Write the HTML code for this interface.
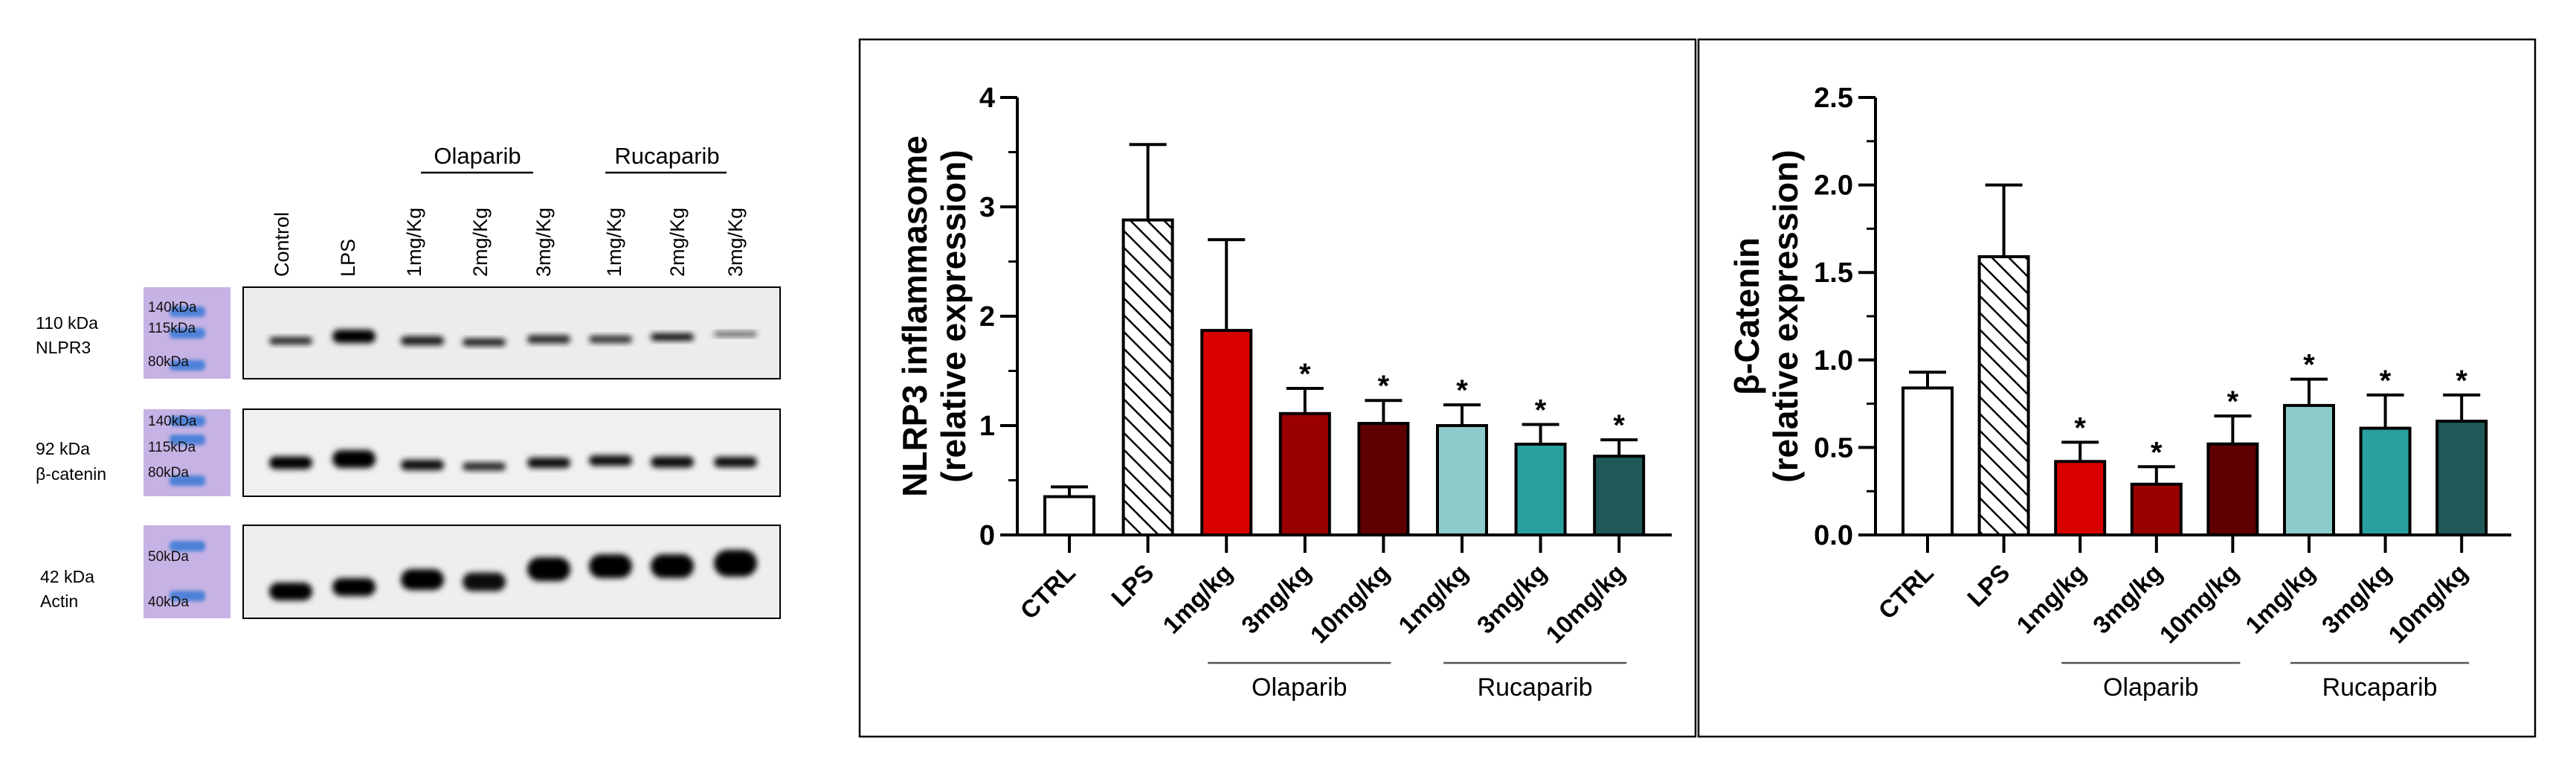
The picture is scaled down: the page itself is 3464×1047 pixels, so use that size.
<!DOCTYPE html>
<html><head><meta charset="utf-8"><style>
html,body{margin:0;padding:0;background:#fff;}
svg text{font-family:"Liberation Sans",Arial,sans-serif;}
</style></head><body>
<svg id="fig" xmlns="http://www.w3.org/2000/svg" width="3464" height="1042" viewBox="0 0 3464 1042">
<defs>
<pattern id="hatch" patternUnits="userSpaceOnUse" width="16" height="16" patternTransform="rotate(-45)">
<rect width="16" height="16" fill="#fff"/><line x1="0" y1="0" x2="0" y2="16" stroke="#000" stroke-width="5"/>
</pattern>
<filter id="blur" x="-20%" y="-50%" width="140%" height="200%"><feGaussianBlur stdDeviation="4"/></filter>
<filter id="blur2" x="-20%" y="-50%" width="140%" height="200%"><feGaussianBlur stdDeviation="2.5"/></filter>
</defs>
<g id="blot"></g>
<rect x="1156" y="53" width="1124" height="937" fill="none" stroke="#000" stroke-width="2.5"/>
<rect x="2284" y="53" width="1125" height="937" fill="none" stroke="#000" stroke-width="2.5"/>
<g id="chart1"></g>
<g id="chart2"></g>
</svg>
<script>
const NS="http://www.w3.org/2000/svg";
const categories=["CTRL","LPS","1mg/kg","3mg/kg","10mg/kg","1mg/kg","3mg/kg","10mg/kg"];
const barColors=["#ffffff","url(#hatch)","#d90000","#9b0000","#5e0000","#8ecccb","#28a09e","#205a58"];
const nlrp3Values=[0.35,2.88,1.87,1.11,1.02,1.00,0.83,0.72];
const nlrp3Errors=[0.44,3.57,2.70,1.34,1.23,1.19,1.01,0.87];
const nlrp3Stars=[false,false,false,true,true,true,true,true];
const nlrp3Ticks=["0","1","2","3","4"];
const nlrp3TickValues=[0,1,2,3,4];
const bcatValues=[0.84,1.59,0.42,0.29,0.52,0.74,0.61,0.65];
const bcatErrors=[0.93,2.00,0.53,0.39,0.68,0.89,0.80,0.80];
const bcatStars=[false,false,true,true,true,true,true,true];
const bcatTicks=["0.0","0.5","1.0","1.5","2.0","2.5"];
const bcatTickValues=[0,0.5,1.0,1.5,2.0,2.5];
const groupNames=["Olaparib","Rucaparib"];
const groupRanges=[[2,4],[5,7]];

function mk(parent,tag,attrs,text){const e=document.createElementNS(NS,tag);for(const k in attrs)e.setAttribute(k,attrs[k]);if(text!==undefined)e.textContent=text;parent.appendChild(e);return e;}

function drawChart(g,cfg){
  const y0=719,yTop=131;
  const ys=v=>y0-(v/cfg.max)*(y0-yTop);
  const xs=i=>cfg.axisX+70+i*cfg.spacing;
  let e=mk(g,"line",{x1:cfg.axisX,y1:yTop,x2:cfg.axisX,y2:y0,stroke:"#000","stroke-width":4});
  
  
  e=mk(g,"line",{x1:cfg.axisX-23,y1:y0,x2:cfg.axisEnd,y2:y0,stroke:"#000","stroke-width":4});
  
  
  cfg.tickValues.forEach((v,i)=>{
    const t=mk(g,"line",{x1:cfg.axisX-23,y1:ys(v),x2:cfg.axisX,y2:ys(v),stroke:"#000","stroke-width":4});
    
    
    const l=mk(g,"text",{x:cfg.axisX-30,y:ys(v)+13,"text-anchor":"end","font-size":38,"font-weight":"bold"},cfg.ticks[i]);
    
    
    if(i<cfg.tickValues.length-1){
      const mv=(v+cfg.tickValues[i+1])/2;
      const m=mk(g,"line",{x1:cfg.axisX-12,y1:ys(mv),x2:cfg.axisX,y2:ys(mv),stroke:"#000","stroke-width":3});
      
      
    }
  });
  cfg.values.forEach((v,i)=>{
    const c=xs(i);
    const eb=mk(g,"path",{d:`M${c},${ys(v)}V${ys(cfg.errors[i])}M${c-25},${ys(cfg.errors[i])}H${c+25}`,stroke:"#000","stroke-width":4,fill:"none"});
    
    
    const b=mk(g,"rect",{x:c-33,y:ys(v),width:66,height:y0-ys(v),fill:barColors[i],stroke:"#000","stroke-width":4});
    
    
    if(cfg.stars[i]){
      const s=mk(g,"text",{x:c,y:ys(cfg.errors[i])-6,"text-anchor":"middle","font-size":40,"font-weight":"bold"},"*");
      
      
    }
    const tk=mk(g,"line",{x1:c,y1:y0,x2:c,y2:743,stroke:"#000","stroke-width":4});
    
    
    const lb=mk(g,"text",{x:c+10,y:772,"text-anchor":"end","font-size":33,"font-weight":"bold",transform:`rotate(-45 ${c+10} 772)`},categories[i]);
    
    
  });
  groupRanges.forEach((r,k)=>{
    const a=xs(r[0])-25,b2=xs(r[1])+10;
    const gl=mk(g,"line",{x1:a,y1:891,x2:b2,y2:891,stroke:"#555","stroke-width":2.5});
    
    
    const gt=mk(g,"text",{x:(a+b2)/2,y:935,"text-anchor":"middle","font-size":34},groupNames[k]);
    
    
  });
  cfg.title.forEach((t,k)=>{
    const x=cfg.titleX[k];
    const tt=mk(g,"text",{x:x,y:425,"text-anchor":"middle","font-size":46,"font-weight":"bold",transform:`rotate(-90 ${x} 425)`},t);
    
    
  });
}
drawChart(document.getElementById('chart1'),{axisX:1368,axisEnd:2248,spacing:105.6,max:4,values:nlrp3Values,errors:nlrp3Errors,stars:nlrp3Stars,ticks:nlrp3Ticks,tickValues:nlrp3TickValues,title:["NLRP3 inflammasome","(relative expression)"],titleX:[1246,1298]});
drawChart(document.getElementById('chart2'),{axisX:2522,axisEnd:3377,spacing:102.6,max:2.5,values:bcatValues,errors:bcatErrors,stars:bcatStars,ticks:bcatTicks,tickValues:bcatTickValues,title:["β-Catenin","(relative expression)"],titleX:[2365,2417]});

const bl=document.getElementById('blot');
const laneLabels=["Control","LPS","1mg/Kg","2mg/Kg","3mg/Kg","1mg/Kg","2mg/Kg","3mg/Kg"];
const laneX=[391,476,568,651,738,821,904,989];
const labelX=[379,468,557,646,731,826,911,989];
laneLabels.forEach((t,i)=>{
  const e=mk(bl,"text",{x:labelX[i]+9,y:372,"font-size":27,transform:`rotate(-90 ${labelX[i]+9} 372)`},t);
  
  
});
[["Olaparib",642,566,717],["Rucaparib",897,814,977]].forEach(a=>{
  const t=mk(bl,"text",{x:a[1],y:220,"text-anchor":"middle","font-size":31},a[0]);
  
  
  const l=mk(bl,"line",{x1:a[2],y1:232,x2:a[3],y2:232,stroke:"#000","stroke-width":2.5});
  
  
});
const panels=[
 {y:386,h:123,bg:"#ececec",ladder:[["140kDa",412,418],["115kDa",440,447],["80kDa",485,490]],lbl:["110 kDa","NLPR3"],ly:[434,467],
  bands:[[458,10,0.85],[452,18,1],[458,12,0.9],[460,10,0.9],[456,11,0.85],[456,10,0.8],[453,10,0.95],[449,7,0.6]]},
 {y:550,h:117,bg:"#f0f0f0",ladder:[["140kDa",565,565],["115kDa",600,590],["80kDa",634,645]],lbl:["92 kDa","β-catenin"],ly:[603,637],
  bands:[[622,17,1],[617,24,1],[625,14,0.95],[627,11,0.85],[622,14,0.95],[619,14,0.95],[621,15,0.95],[621,14,0.95]]},
 {y:706,h:125,bg:"#eeeeee",ladder:[["50kDa",747,733],["40kDa",808,800]],lbl:["42 kDa","Actin"],ly:[775,808],
  bands:[[795,24,1],[789,24,1],[779,28,1],[782,25,0.95],[765,32,1],[761,32,1],[761,32,1],[757,36,1]]}
];
panels.forEach((p,k)=>{
  let e=mk(bl,"rect",{x:193,y:p.y,width:117,height:p.h,fill:"#c6b2e4"});
  
  
  p.ladder.forEach(L=>{
    const b=mk(bl,"rect",{x:228,y:L[2]-6,width:48,height:14,rx:5,fill:"#4d82d8",filter:"url(#blur2)"});
    
    
    const t=mk(bl,"text",{x:199,y:L[1]+7,"font-size":19,fill:"#111"},L[0]);
    
    
  });
  e=mk(bl,"rect",{x:327,y:p.y,width:722,height:p.h,fill:p.bg,stroke:"#000","stroke-width":2});
  
  
  p.bands.forEach((b,i)=>{
    const r=mk(bl,"rect",{x:laneX[i]-29,y:b[0]-b[1]/2,width:58,height:b[1],rx:b[1]/2,fill:"#000","fill-opacity":b[2],filter:"url(#blur)"});
    
    
  });
  p.lbl.forEach((t,j)=>{
    const x=k==2?54:48;
    const l=mk(bl,"text",{x:x,y:p.ly[j]+8,"font-size":23},t);
    
    
  });
});
</script>
</body></html>
